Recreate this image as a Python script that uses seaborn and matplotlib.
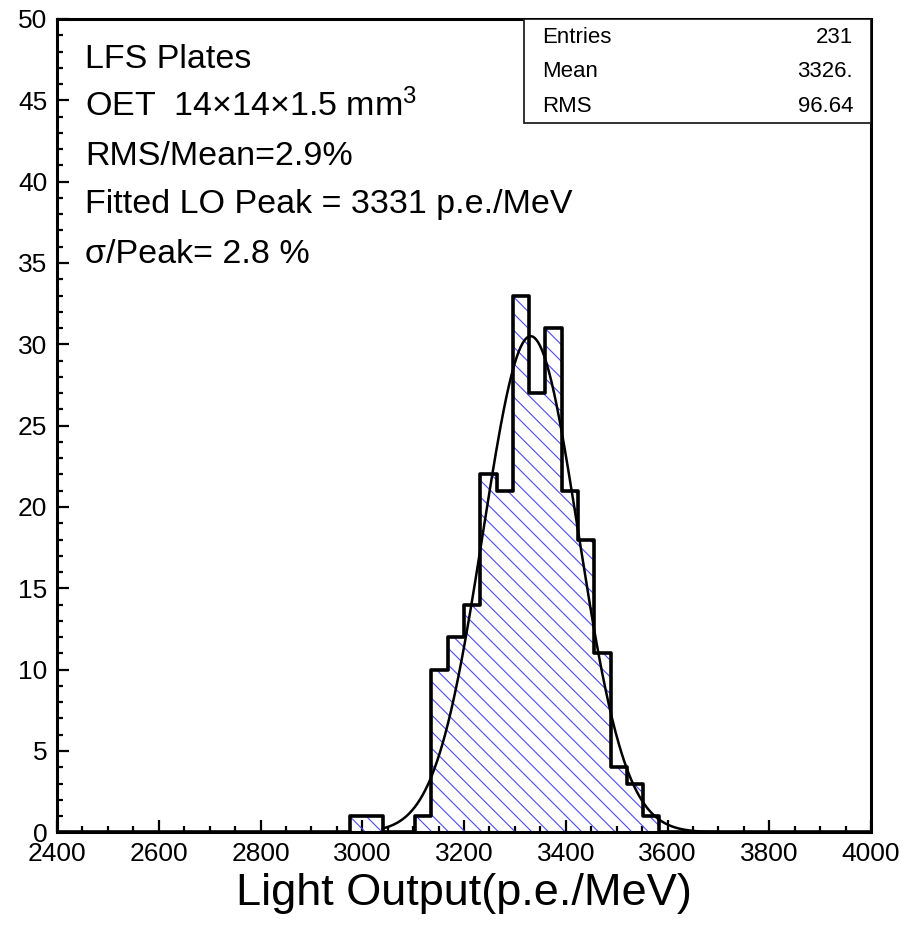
import numpy as np
import pandas as pd
import matplotlib
matplotlib.use("Agg")
import matplotlib.pyplot as plt
import seaborn as sns
from matplotlib.patches import Rectangle

# ---------------- data ----------------
bin_width = 32
first_edge = 2976
counts = [1, 1, 0, 0, 1, 10, 12, 14, 22, 21, 33, 27, 31, 21, 18, 11, 4, 3, 1]
x_range = (2400, 4000)
y_range = (0, 50)
x_ticks = [2400, 2600, 2800, 3000, 3200, 3400, 3600, 3800, 4000]
y_ticks = [0, 5, 10, 15, 20, 25, 30, 35, 40, 45, 50]

# Gaussian fit parameters
fit_mean = 3331.0
fit_sigma = 93.3
fit_amp = 30.5
fit_range = (3040, 3700)

stats_labels = ["Entries", "Mean", "RMS"]
stats_values = ["231", "3326.", "96.64"]

info_lines = [
    "LFS Plates",
    "OET  14×14×1.5 mm$^3$",
    "RMS/Mean=2.9%",
    "Fitted LO Peak = 3331 p.e./MeV",
    "σ/Peak= 2.8 %",
]
info_baselines = [47.0, 44.05, 41.0, 38.05, 35.0]
x_label = "Light Output(p.e./MeV)"

# ---------------- style ----------------
sns.set_style("white")
plt.rcParams["font.family"] = ["Liberation Sans", "DejaVu Sans"]
plt.rcParams["mathtext.fontset"] = "custom"
plt.rcParams["mathtext.rm"] = "Liberation Sans"
plt.rcParams["mathtext.it"] = "Liberation Sans:italic"
plt.rcParams["mathtext.bf"] = "Liberation Sans:bold"
plt.rcParams["text.color"] = "black"
plt.rcParams["axes.labelcolor"] = "black"
hatch_blue = "#4b4bf0"
plt.rcParams["hatch.color"] = hatch_blue
plt.rcParams["hatch.linewidth"] = 0.8

df = pd.DataFrame({
    "center": [first_edge + bin_width * (i + 0.5) for i in range(len(counts))],
    "count": counts,
})

fig = plt.figure(figsize=(9.08, 9.26), dpi=100)
ax = fig.add_axes([57 / 908, 1 - 832.3 / 926, 814 / 908, 813.3 / 926])

# hatched fill
sns.histplot(data=df, x="center", weights="count", binwidth=bin_width, binrange=x_range,
             element="step", fill=True, color=hatch_blue, facecolor="none",
             edgecolor=hatch_blue, hatch="\\\\", linewidth=0, ax=ax)
# black outline
sns.histplot(data=df, x="center", weights="count", binwidth=bin_width, binrange=x_range,
             element="step", fill=False, color="black", linewidth=2.6, ax=ax)

# fit curve
xf = np.linspace(fit_range[0], fit_range[1], 400)
yf = fit_amp * np.exp(-0.5 * ((xf - fit_mean) / fit_sigma) ** 2)
sns.lineplot(x=xf, y=yf, color="black", linewidth=1.8, ax=ax)

ax.set_xlim(*x_range)
ax.set_ylim(*y_range)
ax.set_xticks(x_ticks)
ax.set_yticks(y_ticks)
ax.set_xticks(np.arange(x_range[0], x_range[1] + 1, 50), minor=True)
ax.set_yticks(np.arange(y_range[0], y_range[1] + 1, 1), minor=True)
ax.tick_params(axis="both", which="both", direction="in", top=False, right=False,
               bottom=True, left=True, width=1.6, colors="black", labelsize=19)
ax.tick_params(axis="both", which="major", length=8.5, pad=7)
ax.tick_params(axis="both", which="minor", length=4.3)
ax.set_ylabel("")
ax.set_xlabel(x_label, fontsize=32.5, labelpad=5, color="black")

for s in ax.spines.values():
    s.set_visible(True)
    s.set_color("black")
    s.set_linewidth(2.2)
    s.set_zorder(5)

# info text
for txt, yb in zip(info_lines, info_baselines):
    ax.text(2455, yb, txt, fontsize=24.5, va="baseline", ha="left", color="black")

# stats box
box_x0 = (524 - 57) / 814
box_y0 = (832.3 - 123) / 813.3
ax.add_patch(Rectangle((box_x0, box_y0), 1 - box_x0, 1 - box_y0, transform=ax.transAxes,
                       facecolor="white", edgecolor="#222222", linewidth=1.3, zorder=6))
row_y = [0.9775, 0.935, 0.892]
for lab, val, yy in zip(stats_labels, stats_values, row_y):
    ax.text(0.596, yy, lab, transform=ax.transAxes, fontsize=16, va="center", ha="left",
            color="black", zorder=7)
    ax.text(0.978, yy, val, transform=ax.transAxes, fontsize=16, va="center", ha="right",
            color="black", zorder=7)

fig.savefig("out.png", dpi=100)
